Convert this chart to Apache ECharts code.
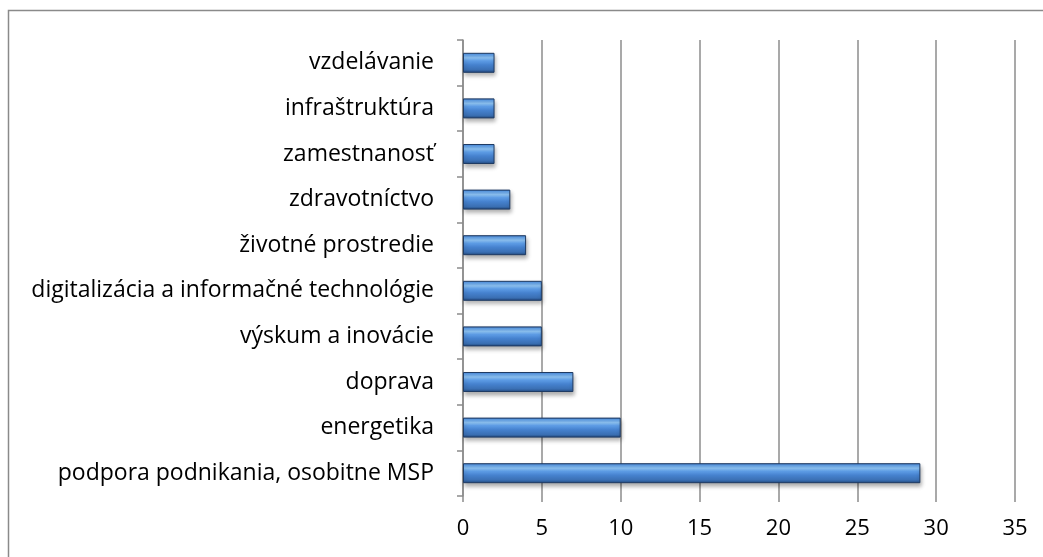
<!DOCTYPE html>
<html>
<head>
<meta charset="utf-8">
<script src="https://cdn.jsdelivr.net/npm/echarts@6/dist/echarts.min.js"></script>
<style>
  html, body { margin: 0; padding: 0; background: #fff; }
  #chart { width: 1043px; height: 557px; }
</style>
</head>
<body>
<div id="chart"></div>
<script>
  // categories bottom -> top
  var categories = [
    'podpora podnikania, osobitne MSP',
    'energetika',
    'doprava',
    'výskum a inovácie',
    'digitalizácia a informačné technológie',
    'životné prostredie',
    'zdravotníctvo',
    'zamestnanosť',
    'infraštruktúra',
    'vzdelávanie'
  ];
  var counts = [29, 10, 7, 5, 5, 4, 3, 2, 2, 2];
  var xTicks = [0, 35, 5];

  var gray = '#8c8c8c';
  var chart = echarts.init(document.getElementById('chart'));
  chart.setOption({
    backgroundColor: '#fff',
    animation: false,
    graphic: [{
      type: 'rect',
      shape: { x: 8.5, y: 10.5, width: 1100, height: 700 },
      style: { fill: 'none', stroke: '#8a8a8a', lineWidth: 1.5 },
      silent: true
    }],
    grid: { left: 463, right: 28, top: 40, bottom: 61 },
    xAxis: {
      type: 'value',
      min: xTicks[0],
      max: xTicks[1],
      interval: xTicks[2],
      axisLine: { show: false },
      axisTick: { show: true, length: 6, lineStyle: { color: gray, width: 1.5 } },
      splitLine: { show: true, lineStyle: { color: gray, width: 1.5 } },
      axisLabel: { color: '#000', fontFamily: 'Open Sans', fontSize: 22, margin: 22 }
    },
    yAxis: {
      type: 'category',
      data: categories,
      axisLine: { show: true, lineStyle: { color: gray, width: 1.5 } },
      axisTick: { show: true, length: 6, alignWithLabel: false, lineStyle: { color: gray, width: 1.5 } },
      axisLabel: { color: '#000', fontFamily: 'Open Sans', fontSize: 23, margin: 29 }
    },
    series: [{
      type: 'bar',
      data: counts,
      barWidth: 20,
      itemStyle: {
        color: new echarts.graphic.LinearGradient(0, 0, 0, 1, [
          { offset: 0, color: '#2f5f9e' },
          { offset: 0.08, color: '#5b9be6' },
          { offset: 0.25, color: '#8fc5f6' },
          { offset: 0.4, color: '#5e9de6' },
          { offset: 0.6, color: '#4682cf' },
          { offset: 0.85, color: '#3a6fb3' },
          { offset: 1, color: '#21477a' }
        ]),
        borderColor: '#1f3b63',
        borderWidth: 1,
        shadowColor: 'rgba(0,0,0,0.3)',
        shadowBlur: 4,
        shadowOffsetY: 3,
        shadowOffsetX: 1
      }
    }]
  });
</script>
</body>
</html>
